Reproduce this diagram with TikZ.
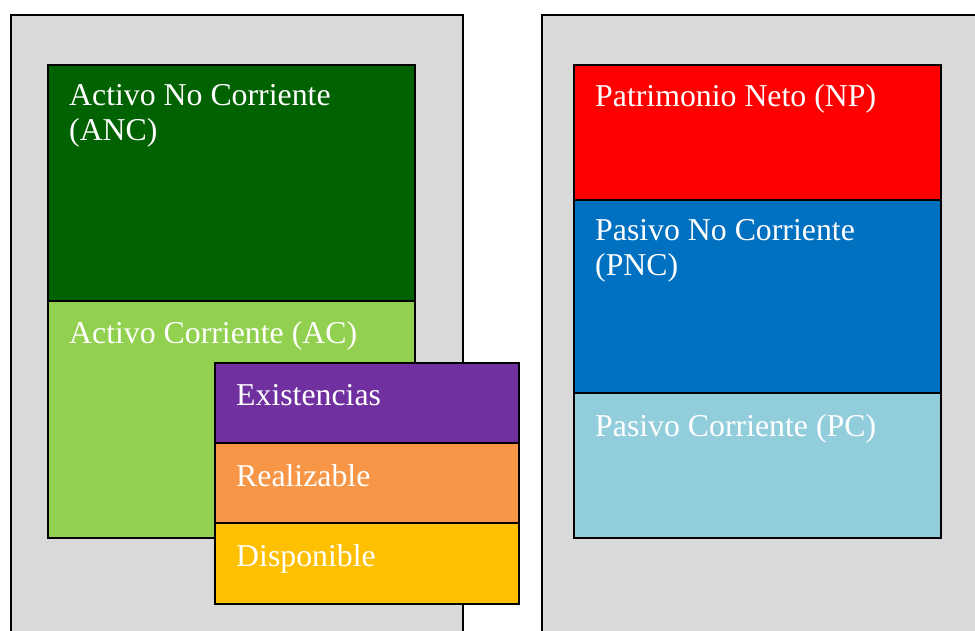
\documentclass[tikz,border=0pt]{standalone}
\usepackage{fontspec}
\setmainfont{Liberation Serif}
\usetikzlibrary{positioning}
\definecolor{fondo}{RGB}{217,217,217}
\definecolor{verdeoscuro}{RGB}{0,98,0}
\definecolor{verdeclaro}{RGB}{146,208,80}
\definecolor{morado}{RGB}{112,48,160}
\definecolor{naranja}{RGB}{247,150,70}
\definecolor{amarillo}{RGB}{255,192,0}
\definecolor{rojo}{RGB}{255,0,0}
\definecolor{azul}{RGB}{0,112,192}
\definecolor{celeste}{RGB}{146,205,220}
\tikzset{
  panel/.style={draw=black, line width=1.6pt, fill=fondo},
  masa/.style={draw=black, line width=1.3pt, anchor=north west, inner sep=0pt, outer sep=0pt},
  rotulo/.style={text=white, anchor=base west, align=left, inner sep=0pt,
    font=\fontsize{31.8pt}{35pt}\selectfont}
}
\begin{document}
\begin{tikzpicture}[x=1pt,y=-1pt]
\useasboundingbox (0,0) rectangle (975,631);
\clip (0,0) rectangle (975,631);
% paneles de fondo
\draw[panel] (11,15) rectangle (463,660);
\draw[panel] (542,15) rectangle (1000,660);
% activo
\node[masa, fill=verdeoscuro, minimum width=367pt, minimum height=236pt] (anc) at (48,65) {};
\node[masa, fill=verdeclaro, minimum width=367pt, minimum height=237pt, below=0pt of anc] (ac) {};
\node[masa, fill=morado, minimum width=304pt, minimum height=80pt] (exis) at (215,363) {};
\node[masa, fill=naranja, minimum width=304pt, minimum height=80pt, below=0pt of exis] (real) {};
\node[masa, fill=amarillo, minimum width=304pt, minimum height=81pt, below=0pt of real] (disp) {};
% patrimonio neto y pasivo
\node[masa, fill=rojo, minimum width=367pt, minimum height=135pt] (np) at (574,65) {};
\node[masa, fill=azul, minimum width=367pt, minimum height=193pt, below=0pt of np] (pnc) {};
\node[masa, fill=celeste, minimum width=367pt, minimum height=145pt, below=0pt of pnc] (pc) {};
% rotulos (la base es la de la ultima linea)
\foreach \caja/\baja/\texto in {anc/76/{Activo No Corriente\\(ANC)}, ac/42/{Activo Corriente (AC)},
  exis/42/{Existencias}, real/43/{Realizable}, disp/43/{Disponible},
  np/42/{Patrimonio Neto (NP)}, pnc/76/{Pasivo No Corriente\\(PNC)}, pc/43/{Pasivo Corriente (PC)}}
\node[rotulo] (t-\caja) at ([shift={(21pt,-\baja pt)}]\caja.north west) {\texto};
\end{tikzpicture}
\end{document}
